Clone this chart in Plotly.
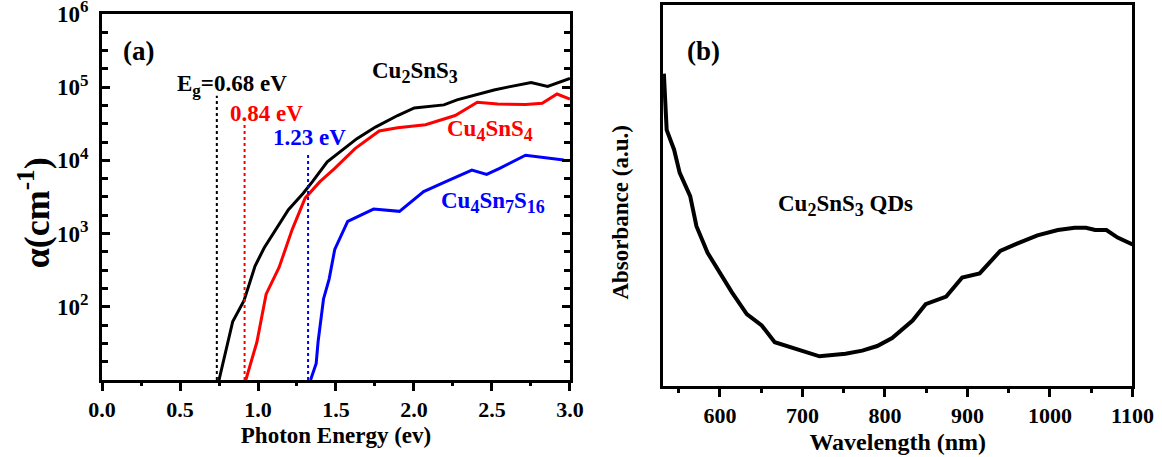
import plotly.graph_objects as go

# ---------------- Panel (a) data ----------------
e_cts = [0.75, 0.838, 0.910, 0.981, 1.040, 1.112, 1.195, 1.290, 1.349, 1.444, 1.527, 1.634,
         1.753, 1.895, 2.002, 2.086, 2.192, 2.276, 2.394, 2.513, 2.608, 2.751, 2.857, 3.0]
a_cts = [10, 63, 121, 361, 641, 1135, 2120, 3566, 5128, 9570, 13100, 19800,
         28500, 41000, 52100, 54300, 57300, 67000, 78200, 91400, 101000, 116000, 102500, 131500]

e_cts4 = [0.922, 0.993, 1.052, 1.135, 1.219, 1.302, 1.397, 1.492, 1.622, 1.777, 1.895, 2.074,
          2.264, 2.406, 2.537, 2.715, 2.822, 2.917, 3.0]
a_cts4 = [10, 33, 149, 344, 1135, 3050, 5128, 7780, 14500, 25200, 27900, 30700,
          41000, 62200, 59000, 57800, 60300, 80700, 69000]

e_cts7 = [1.337, 1.373, 1.385, 1.420, 1.456, 1.492, 1.575, 1.741, 1.907, 2.062, 2.204, 2.371,
          2.466, 2.549, 2.715, 2.96]
a_cts7 = [10, 16.8, 33, 128, 239, 608, 1473, 2163, 2013, 3748, 5128, 7380,
          6440, 7780, 11780, 10100]

gap_x = [0.736, 0.914, 1.321]
gap_top = [76500, 32300, 12200]
gap_colors = ["black", "red", "blue"]

y_ticks_a = [1e2, 1e3, 1e4, 1e5, 1e6]
y_exps_a = [2, 3, 4, 5, 6]

# ---------------- Panel (b) data ----------------
wl = [532, 535.4, 544.4, 551.2, 563.9, 571.5, 585, 598.6, 614.5, 632.5, 650.6, 666.4, 691.2,
      720.6, 752.2, 772.5, 790.6, 808.7, 833.5, 849.3, 874.2, 893.6, 914.8, 939.7, 960,
      984.8, 1009.6, 1030, 1043.6, 1054.8, 1068.4, 1082, 1100]
absb = [0.821, 0.673, 0.621, 0.560, 0.499, 0.420, 0.350, 0.302, 0.246, 0.189, 0.159, 0.115, 0.098,
        0.078, 0.085, 0.093, 0.105, 0.126, 0.172, 0.215, 0.235, 0.285, 0.296, 0.355, 0.374,
        0.396, 0.410, 0.416, 0.416, 0.410, 0.410, 0.390, 0.372]

FONT = "Liberation Serif"


def sub(t, px=18):
    return f"<sub><span style='font-size:{px}px'>{t}</span></sub>"


fig = go.Figure()

for xs, ys, c in [(e_cts, a_cts, "black"), (e_cts4, a_cts4, "red"), (e_cts7, a_cts7, "blue")]:
    fig.add_trace(go.Scatter(x=xs, y=ys, mode="lines", line=dict(color=c, width=3),
                             xaxis="x", yaxis="y", showlegend=False, hoverinfo="skip"))

for gx, gt, c in zip(gap_x, gap_top, gap_colors):
    fig.add_trace(go.Scatter(x=[gx, gx], y=[10, gt], mode="lines",
                             line=dict(color=c, width=2, dash="dot"),
                             xaxis="x", yaxis="y", showlegend=False, hoverinfo="skip"))

fig.add_trace(go.Scatter(x=wl, y=absb, mode="lines", line=dict(color="black", width=4),
                         xaxis="x2", yaxis="y2", showlegend=False, hoverinfo="skip"))

# invisible traces so the minor-tick overlay axes are drawn
fig.add_trace(go.Scatter(x=e_cts, y=a_cts, mode="lines", opacity=0, xaxis="x3", yaxis="y",
                         showlegend=False, hoverinfo="skip"))
fig.add_trace(go.Scatter(x=e_cts, y=a_cts, mode="lines", opacity=0, xaxis="x", yaxis="y3",
                         showlegend=False, hoverinfo="skip"))
fig.add_trace(go.Scatter(x=wl, y=absb, mode="lines", opacity=0, xaxis="x4", yaxis="y2",
                         showlegend=False, hoverinfo="skip"))

tickfont = dict(family=FONT, size=22, color="black")
titlefont = dict(family=FONT, size=23, color="black")
plain = dict(showgrid=False, zeroline=False)

fig.update_layout(
    width=1162, height=457,
    margin=dict(l=0, r=0, t=0, b=0, autoexpand=False),
    paper_bgcolor="white", plot_bgcolor="white",
    xaxis=dict(domain=[0.0878, 0.4905], range=[0, 3], anchor="y",
               tickmode="linear", tick0=0, dtick=0.5, tickformat=".1f",
               tickprefix="<b>", ticksuffix="</b>",
               ticks="outside", ticklen=8, tickwidth=3, tickcolor="black",
               showline=True, linewidth=3, linecolor="black", mirror=True,
               tickfont=tickfont, **plain,
               title=dict(text="<b>Photon Energy (ev)</b>", font=titlefont, standoff=6)),
    xaxis3=dict(overlaying="x", anchor="y", side="bottom", range=[0, 3],
                tickmode="linear", tick0=0, dtick=0.25,
                ticks="outside", ticklen=5, tickwidth=3, tickcolor="black",
                showticklabels=False, showline=False, **plain),
    yaxis=dict(domain=[0.1685, 0.9694], type="log", range=[1, 6], anchor="x",
               tickmode="array", tickvals=y_ticks_a,
               ticktext=[f"<b>10<sup><span style='font-size:17px'>{e}</span></sup></b>" for e in y_exps_a],
               ticks="inside", ticklen=8, tickwidth=3, tickcolor="black",
               showline=True, linewidth=3, linecolor="black", mirror="ticks",
               tickfont=dict(family=FONT, size=23, color="black"), **plain,
               ticklabeloverflow="allow", ticklabelstandoff=6),
    yaxis3=dict(overlaying="y", anchor="x", side="left", type="log", range=[1, 6],
                tickmode="linear", tick0=0, dtick=0.25,
                ticks="inside", ticklen=6, tickwidth=3, tickcolor="black",
                showticklabels=False, showline=False, mirror="ticks", **plain),
    xaxis2=dict(domain=[0.5706, 0.9746], range=[531, 1100], anchor="y2",
                tickmode="linear", tick0=600, dtick=100,
                tickprefix="<b>", ticksuffix="</b>",
                ticks="outside", ticklen=8, tickwidth=3, tickcolor="black",
                showline=True, linewidth=3, linecolor="black", mirror=True,
                tickfont=tickfont, **plain,
                title=dict(text="<b>Wavelength (nm)</b>", font=dict(family=FONT, size=24, color="black"), standoff=6)),
    xaxis4=dict(overlaying="x2", anchor="y2", side="bottom", range=[531, 1100],
                tickmode="linear", tick0=550, dtick=50,
                ticks="outside", ticklen=6, tickwidth=3, tickcolor="black",
                showticklabels=False, showline=False, **plain),
    yaxis2=dict(domain=[0.1554, 0.988], range=[0, 1], anchor="x2",
                showticklabels=False, ticks="",
                showline=True, linewidth=3, linecolor="black", mirror=True, **plain),
)


def ann(x, y, text, color, size, xref="x", yref="y", angle=0):
    fig.add_annotation(x=x, y=y, xref=xref, yref=yref, text="<b>" + text + "</b>", showarrow=False,
                       xanchor="center", yanchor="middle", textangle=angle,
                       font=dict(family=FONT, size=size, color=color))


# y-axis titles as rotated text
ann(0.030, 0.535, "α(cm<sup>-1</sup>)", "black", 36, "paper", "paper", -90)
ann(0.5336, 0.535, "Absorbance (a.u.)", "black", 23, "paper", "paper", -90)

ann(0.237, 5.49, "(a)", "black", 27)
ann(0.833, 5.02, "E" + sub("g", 17) + "=0.68 eV", "black", 23)
ann(1.053, 4.634, "0.84 eV", "red", 23)
ann(1.333, 4.306, "1.23 eV", "blue", 23)
ann(2.006, 5.20, "Cu" + sub("2") + "SnS" + sub("3"), "black", 23)
ann(2.487, 4.41, "Cu" + sub("4") + "SnS" + sub("4"), "red", 23)
ann(2.506, 3.425, "Cu" + sub("4") + "Sn" + sub("7") + "S" + sub("16"), "blue", 23)
ann(580.6, 0.88, "(b)", "black", 27, "x2", "y2")
ann(752.7, 0.475, "Cu" + sub("2") + "SnS" + sub("3") + " QDs", "black", 23, "x2", "y2")

fig.write_html("out.html")
